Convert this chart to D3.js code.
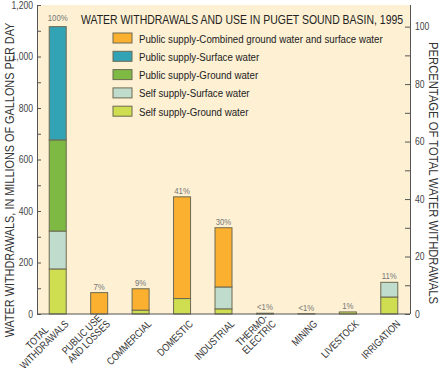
<!DOCTYPE html>
<html>
<head>
<meta charset="utf-8">
<script src="https://cdn.jsdelivr.net/npm/d3@7"></script>
<style>
  body { margin: 0; background: #fff; }
  svg { display: block; font-family: "Liberation Sans", Arial, sans-serif; }
</style>
</head>
<body>
<svg id="chart" width="440" height="368"></svg>
<script>
// categories along the x axis (lines split for the rotated labels)
const categories = ['TOTAL WITHDRAWALS', 'PUBLIC USE AND LOSSES', 'COMMERCIAL', 'DOMESTIC',
  'INDUSTRIAL', 'THERMOELECTRIC', 'MINING', 'LIVESTOCK', 'IRRIGATION'];
const categoryLines = [['TOTAL', 'WITHDRAWALS'], ['PUBLIC USE', 'AND LOSSES'], ['COMMERCIAL'], ['DOMESTIC'],
  ['INDUSTRIAL'], ['THERMO-', 'ELECTRIC'], ['MINING'], ['LIVESTOCK'], ['IRRIGATION']];

// million gallons per day (stacked bottom to top)
const selfGround      = [175,  0, 15,  60,  20, 0, 1, 8, 66];
const selfSurface     = [147,  0,  0,   0,  85, 3, 0, 0, 57];
const publicGround    = [354,  0,  0,   0,   0, 0, 0, 0,  0];
const publicSurface   = [440,  0,  0,   0,   0, 0, 0, 0,  0];
const publicCombined  = [  0, 83, 83, 395, 230, 0, 0, 0,  0];

const percentLabels = ['100%', '7%', '9%', '41%', '30%', '<1%', '<1%', '1%', '11%'];
const totalWithdrawal = 1116;

const leftTicks = [0, 200, 400, 600, 800, 1000, 1200];
const rightTicks = [0, 20, 40, 60, 80, 100];

const seriesKeys = ['selfGround', 'selfSurface', 'publicGround', 'publicSurface', 'publicCombined'];
const seriesNames = {
  publicCombined: 'Public supply-Combined ground water and surface water',
  publicSurface: 'Public supply-Surface water',
  publicGround: 'Public supply-Ground water',
  selfSurface: 'Self supply-Surface water',
  selfGround: 'Self supply-Ground water'
};
const colors = {
  publicCombined: '#fbb030',
  publicSurface: '#32a3b5',
  publicGround: '#7db943',
  selfSurface: '#c0dccd',
  selfGround: '#cfdd50'
};
const legendOrder = ['publicCombined', 'publicSurface', 'publicGround', 'selfSurface', 'selfGround'];

const table = categories.map((c, i) => ({
  category: c,
  selfGround: selfGround[i],
  selfSurface: selfSurface[i],
  publicGround: publicGround[i],
  publicSurface: publicSurface[i],
  publicCombined: publicCombined[i]
}));

const margin = { left: 37, right: 30, top: 5, bottom: 54 };
const width = 440, height = 368;
const NARROW = 0.82; // squeeze Liberation Sans into an Arial Narrow look
const svg = d3.select('#chart');

// text helper: positioned with a transform so it can be squeezed horizontally
function label(parent, x, y, str, opts = {}) {
  return parent.append('text')
    .attr('transform', `translate(${x},${y}) rotate(${opts.rotate || 0}) scale(${opts.squeeze || NARROW},1)`)
    .attr('text-anchor', opts.anchor || 'start')
    .attr('font-size', opts.size || 10)
    .attr('fill', opts.fill || '#333')
    .text(str);
}

const x = d3.scaleBand()
  .domain(categories)
  .range([margin.left, width - margin.right])
  .paddingInner(0.59)
  .paddingOuter(0.295);

const y = d3.scaleLinear().domain([0, 1200]).range([height - margin.bottom, margin.top]);
const yPct = d3.scaleLinear().domain([0, 1200 / totalWithdrawal * 100]).range(y.range());

// plot background
svg.append('rect')
  .attr('x', margin.left).attr('y', margin.top)
  .attr('width', width - margin.right - margin.left)
  .attr('height', height - margin.bottom - margin.top)
  .attr('fill', '#fdf0d3');

// title
label(svg, 81, 23.5, 'WATER WITHDRAWALS AND USE IN PUGET SOUND BASIN, 1995',
  { size: 12, squeeze: 0.872, fill: '#222' });

// legend
const legend = svg.append('g').attr('transform', 'translate(113,33)');
legendOrder.forEach((k, i) => {
  const row = legend.append('g').attr('transform', `translate(0,${i * 18.3})`);
  row.append('rect')
    .attr('width', 19).attr('height', 10)
    .attr('fill', colors[k]).attr('stroke', '#6d6a52').attr('stroke-width', 1);
  label(row, 26, 9.5, seriesNames[k], { size: 11.5, squeeze: 0.845, fill: '#222' });
});

// stacked bars
const stacked = d3.stack().keys(seriesKeys)(table);
svg.append('g').selectAll('g')
  .data(stacked)
  .join('g')
  .attr('fill', d => colors[d.key])
  .selectAll('rect')
  .data(d => d.filter(s => s[1] - s[0] > 0))
  .join('rect')
  .attr('x', d => x(d.data.category))
  .attr('width', x.bandwidth())
  .attr('y', d => y(d[1]))
  .attr('height', d => y(d[0]) - y(d[1]))
  .attr('stroke', '#6d6a52')
  .attr('stroke-width', 1);

// percent labels above bars
const tops = table.map(d => seriesKeys.reduce((s, k) => s + d[k], 0));
categories.forEach((c, i) => {
  label(svg, x(c) + x.bandwidth() / 2, y(tops[i]) - (i === 0 ? 6 : 3), percentLabels[i],
    { anchor: 'middle', size: 9.5, fill: '#777' });
});

// left axis
const yAxis = svg.append('g')
  .attr('transform', `translate(${margin.left},0)`)
  .call(d3.axisLeft(y).tickValues(d3.range(0, 1201, 100)).tickSizeInner(-4).tickSizeOuter(0)
    .tickFormat(''));
yAxis.select('.domain').attr('stroke', '#555');
yAxis.selectAll('.tick line').attr('stroke', '#555');
leftTicks.forEach(v => {
  label(svg, margin.left - 4, y(v) + 3.5, d3.format(',')(v), { anchor: 'end', size: 10.5, fill: '#444' });
});

// right axis
const rAxis = svg.append('g')
  .attr('transform', `translate(${width - margin.right},0)`)
  .call(d3.axisRight(yPct).tickValues(d3.range(0, 101, 10)).tickSizeInner(-5).tickSizeOuter(0)
    .tickFormat(''));
rAxis.select('.domain').attr('stroke', '#555').attr('d', `M0.5,${y(0)}V${margin.top}`);
rAxis.selectAll('.tick line').attr('stroke', '#555');
rightTicks.forEach(v => {
  label(svg, width - margin.right + 5, yPct(v) + 3.5, v, { size: 10.5, fill: '#444' });
});

// bottom axis line
svg.append('line')
  .attr('x1', margin.left).attr('x2', width - margin.right)
  .attr('y1', y(0)).attr('y2', y(0))
  .attr('stroke', '#555');

// category labels, rotated; lines centred on each other, block ending at the bar
const lineH = 10;
categories.forEach((c, i) => {
  const g = svg.append('g')
    .attr('transform', `translate(${x(c) + x.bandwidth() / 2 + 9},${y(0) + 8}) rotate(-45) scale(${NARROW},1)`);
  const lines = categoryLines[i];
  const texts = lines.map((t, j) => g.append('text')
    .attr('font-size', 10.5)
    .attr('fill', '#333')
    .attr('dy', '0.35em')
    .attr('y', (j - (lines.length - 1)) * lineH)
    .attr('text-anchor', 'middle')
    .text(t));
  const w = d3.max(texts, t => t.node().getComputedTextLength());
  texts.forEach(t => t.attr('x', -w / 2));
});

// axis titles
label(svg, 14, 180, 'WATER WITHDRAWALS, IN MILLIONS OF GALLONS PER DAY',
  { rotate: -90, anchor: 'middle', size: 12.5, squeeze: 0.87, fill: '#333' });
label(svg, 429, 173, 'PERCENTAGE OF TOTAL WATER WITHDRAWALS',
  { rotate: 90, anchor: 'middle', size: 12.5, squeeze: 0.9, fill: '#333' });
</script>
</body>
</html>
